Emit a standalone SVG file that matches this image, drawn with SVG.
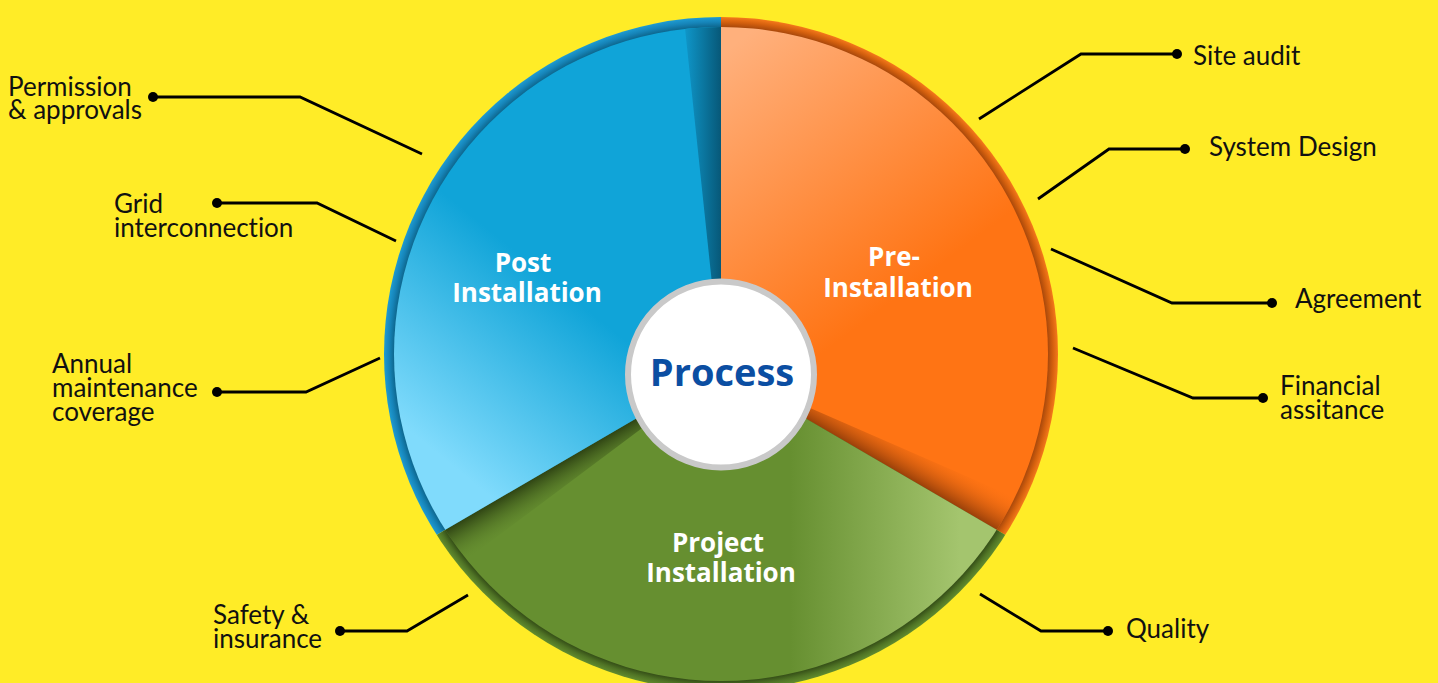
<svg xmlns="http://www.w3.org/2000/svg" width="1438" height="683" viewBox="0 0 1438 683">
<defs>
<style>
.lbl{font-family:Lato,"Open Sans","Liberation Sans",sans-serif;font-size:26px;fill:#111;font-variant-ligatures:none;}
.wl{font-family:"Open Sans","Liberation Sans",sans-serif;font-weight:700;font-size:26px;fill:#fff;text-anchor:middle;}
.conn{fill:none;stroke:#000;stroke-width:2.8;}
.dot{fill:#000;}
</style>
<clipPath id="outerClip"><circle cx="721" cy="354" r="337"/></clipPath>
<clipPath id="innerClip"><circle cx="721" cy="354" r="327"/></clipPath>
<radialGradient id="rimBlue" gradientUnits="userSpaceOnUse" cx="721" cy="354" r="337">
<stop offset="0.965" stop-color="#0a5d80"/><stop offset="0.985" stop-color="#1684b8"/><stop offset="1" stop-color="#1e9bd2"/>
</radialGradient>
<radialGradient id="rimOrange" gradientUnits="userSpaceOnUse" cx="721" cy="354" r="337">
<stop offset="0.965" stop-color="#9a400a"/><stop offset="0.985" stop-color="#d4600e"/><stop offset="1" stop-color="#f5791a"/>
</radialGradient>
<radialGradient id="rimGreen" gradientUnits="userSpaceOnUse" cx="721" cy="354" r="337">
<stop offset="0.965" stop-color="#2c4212"/><stop offset="0.985" stop-color="#4f7325"/><stop offset="1" stop-color="#628c2e"/>
</radialGradient>
<linearGradient id="fillOrange" gradientUnits="userSpaceOnUse" x1="740" y1="40" x2="920" y2="280">
<stop offset="0" stop-color="#ffb07c"/><stop offset="1" stop-color="#ff7414"/>
</linearGradient>
<linearGradient id="fillBlue" gradientUnits="userSpaceOnUse" x1="600" y1="320" x2="470" y2="480">
<stop offset="0" stop-color="#10a4d8"/><stop offset="1" stop-color="#80dbfc"/>
</linearGradient>
<linearGradient id="fillGreen" gradientUnits="userSpaceOnUse" x1="790" y1="0" x2="960" y2="0">
<stop offset="0" stop-color="#668f30"/><stop offset="1" stop-color="#a4c56e"/>
</linearGradient>
<linearGradient id="shBlue" gradientUnits="userSpaceOnUse" x1="721" y1="0" x2="684" y2="0">
<stop offset="0" stop-color="#075878"/><stop offset="1" stop-color="#0f98cb"/>
</linearGradient>
<linearGradient id="shOrange" gradientUnits="userSpaceOnUse" x1="980.1" y1="520.1" x2="999.2" y2="487.3">
<stop offset="0" stop-color="#8e3a08" stop-opacity="0.9"/><stop offset="1" stop-color="#ff7314" stop-opacity="0"/>
</linearGradient>
<linearGradient id="shGreen" gradientUnits="userSpaceOnUse" x1="461.9" y1="520.1" x2="481" y2="552.9">
<stop offset="0" stop-color="#2c4012" stop-opacity="0.95"/><stop offset="1" stop-color="#668f30" stop-opacity="0"/>
</linearGradient>
</defs>
<rect width="1438" height="683" fill="#ffec27"/>

<g id="pre-installation">
<polygon points="721,369 721,0 1100,0 1100,590" fill="url(#rimOrange)" clip-path="url(#outerClip)"/>
<polygon points="721,369 721,0 1100,0 1100,590" fill="url(#fillOrange)" clip-path="url(#innerClip)"/>
<polygon points="721,369 1133,549 1109.7,595.7" fill="url(#shOrange)" clip-path="url(#innerClip)"/>
<text class="wl" x="894" y="266">Pre-</text>
<text class="wl" x="898" y="297">Installation</text>
</g>

<g id="project-installation">
<polygon points="721,369 1100,590 1100,700 342,700 342,590" fill="url(#rimGreen)" clip-path="url(#outerClip)"/>
<polygon points="721,369 1100,590 1100,700 342,700 342,590" fill="url(#fillGreen)" clip-path="url(#innerClip)"/>
<polygon points="721,369 332.3,595.7 360.8,638.8" fill="url(#shGreen)" clip-path="url(#innerClip)"/>
<text class="wl" x="718" y="552">Project</text>
<text class="wl" x="721" y="582">Installation</text>
</g>

<g id="post-installation">
<polygon points="721,369 342,590 342,0 721,0" fill="url(#rimBlue)" clip-path="url(#outerClip)"/>
<polygon points="721,369 342,590 342,0 721,0" fill="url(#fillBlue)" clip-path="url(#innerClip)"/>
<polygon points="721,369 682,0 721,0" fill="url(#shBlue)" clip-path="url(#innerClip)"/>
<text class="wl" x="523" y="272">Post</text>
<text class="wl" x="527" y="302">Installation</text>
</g>

<g id="process">
<circle cx="721" cy="374.5" r="93" fill="#fff" stroke="#c9c9c9" stroke-width="6"/>
<text x="722" y="386" text-anchor="middle" font-family="'Open Sans','Liberation Sans',sans-serif" font-weight="700" font-size="38" fill="#0b4ea2">Process</text>
</g>

<g id="connectors">
<polyline class="conn" points="153,97 300,97 422,154"/>
<polyline class="conn" points="217,203 317,203 396,241"/>
<polyline class="conn" points="217,392 306,392 380,358"/>
<polyline class="conn" points="340,631 407,631 468,595"/>
<polyline class="conn" points="1177,54 1081,54 979,119"/>
<polyline class="conn" points="1185,149 1109,149 1038,199"/>
<polyline class="conn" points="1272,303 1172,303 1051,249"/>
<polyline class="conn" points="1263,398 1193,398 1073,348"/>
<polyline class="conn" points="1108,631 1041,631 980,594"/>
</g>

<g id="permission-approvals"><circle class="dot" cx="153" cy="97" r="5"/><text class="lbl" x="8" y="96">Permission</text><text class="lbl" x="8" y="119">&amp; approvals</text></g>
<g id="grid-interconnection"><circle class="dot" cx="217" cy="203" r="5"/><text class="lbl" x="114" y="213">Grid</text><text class="lbl" x="114" y="237">interconnection</text></g>
<g id="annual-maintenance"><circle class="dot" cx="217" cy="392" r="5"/><text class="lbl" x="52" y="373">Annual</text><text class="lbl" x="52" y="397">maintenance</text><text class="lbl" x="52" y="421">coverage</text></g>
<g id="safety-insurance"><circle class="dot" cx="340" cy="631" r="5"/><text class="lbl" x="213" y="624">Safety &amp;</text><text class="lbl" x="213" y="648">insurance</text></g>
<g id="site-audit"><circle class="dot" cx="1177" cy="54" r="5"/><text class="lbl" x="1193" y="65">Site audit</text></g>
<g id="system-design"><circle class="dot" cx="1185" cy="149" r="5"/><text class="lbl" x="1209" y="156">System Design</text></g>
<g id="agreement"><circle class="dot" cx="1272" cy="303" r="5"/><text class="lbl" x="1295" y="308">Agreement</text></g>
<g id="financial-assistance"><circle class="dot" cx="1263" cy="398" r="5"/><text class="lbl" x="1280" y="395">Financial</text><text class="lbl" x="1280" y="419">assitance</text></g>
<g id="quality"><circle class="dot" cx="1108" cy="631" r="5"/><text class="lbl" x="1126" y="638">Quality</text></g>
</svg>
